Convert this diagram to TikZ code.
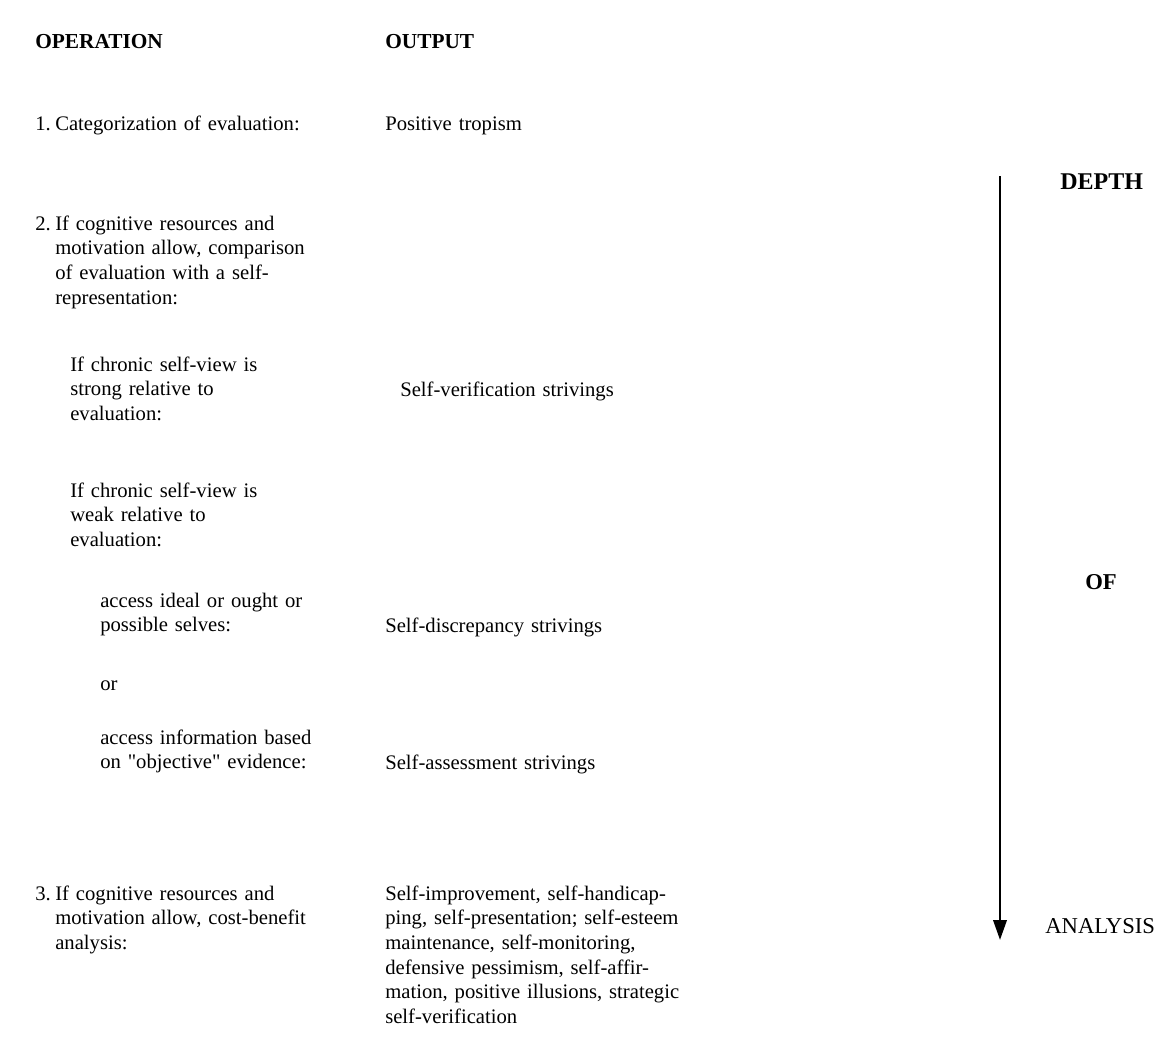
\documentclass[tikz,border=0pt]{standalone}
\usepackage{fontspec}
\setmainfont{Liberation Serif}
\usetikzlibrary{arrows.meta,positioning}

\begin{document}
\begin{tikzpicture}[x=0.75pt,y=-0.75pt,
    every node/.style={inner sep=0pt,anchor=base west},
    txt/.style={text width=#1,align=left,font=\fontsize{15.5}{18.5}\selectfont},
    txt/.default=260pt,
    head/.style={font=\fontsize{16}{18}\selectfont\bfseries},
    side/.style={font=\fontsize{17}{19}\selectfont}]
  \useasboundingbox (0,0) rectangle (1171,1050);
  % column heads
  \node[head] (ophead) at (35,48) {OPERATION};
  \node[head] (outhead) at (385,48) {OUTPUT};
  % operations
  \node[txt=20pt] (n1) at (35,130) {1.};
  \node[txt] (op1) at (55,130) {Categorization of evaluation:};
  \node[txt=20pt] (n2) at (35,230) {2.};
  \node[txt] (op2) at (55,230) {If cognitive resources and\\ motivation allow, comparison\\ of evaluation with a self-\\ representation:};
  \node[txt] (strong) at (70,371) {If chronic self-view is\\ strong relative to\\ evaluation:};
  \node[txt] (weak) at (70,497) {If chronic self-view is\\ weak relative to\\ evaluation:};
  \node[txt] (ideal) at (100,607) {access ideal or ought or\\ possible selves:};
  \node[txt] (or) at (100,690) {or};
  \node[txt] (objective) at (100,744) {access information based\\ on \textquotedbl objective\textquotedbl{} evidence:};
  \node[txt=20pt] (n3) at (35,900) {3.};
  \node[txt] (op3) at (55,900) {If cognitive resources and\\ motivation allow, cost-benefit\\ analysis:};
  % outputs
  \node[txt=300pt] (tropism) at (385,130) {Positive tropism};
  \node[txt=300pt] (verif) at (400,396) {Self-verification strivings};
  \node[txt=300pt] (discrep) at (385,632) {Self-discrepancy strivings};
  \node[txt=300pt] (assess) at (385,769) {Self-assessment strivings};
  \node[txt=300pt] (improve) at (385,900) {Self-improvement, self-handicap-\\ ping, self-presentation; self-esteem\\ maintenance, self-monitoring,\\ defensive pessimism, self-affir-\\ mation, positive illusions, strategic\\ self-verification};
  % depth of analysis
  \coordinate (top) at (1000,176);
  \coordinate (tip) at (1000,940);
  \draw[line width=2pt,-{Triangle[width=10pt,length=15pt]}] (top) -- (tip);
  \node[side,font=\fontsize{18}{20}\selectfont\bfseries] (depth) at (1060,189) {DEPTH};
  \node[side,font=\fontsize{17}{19}\selectfont\bfseries] (of) at (1085,589) {OF};
  \node[side] (analysis) at (1045,933) {ANALYSIS};
\end{tikzpicture}
\end{document}
